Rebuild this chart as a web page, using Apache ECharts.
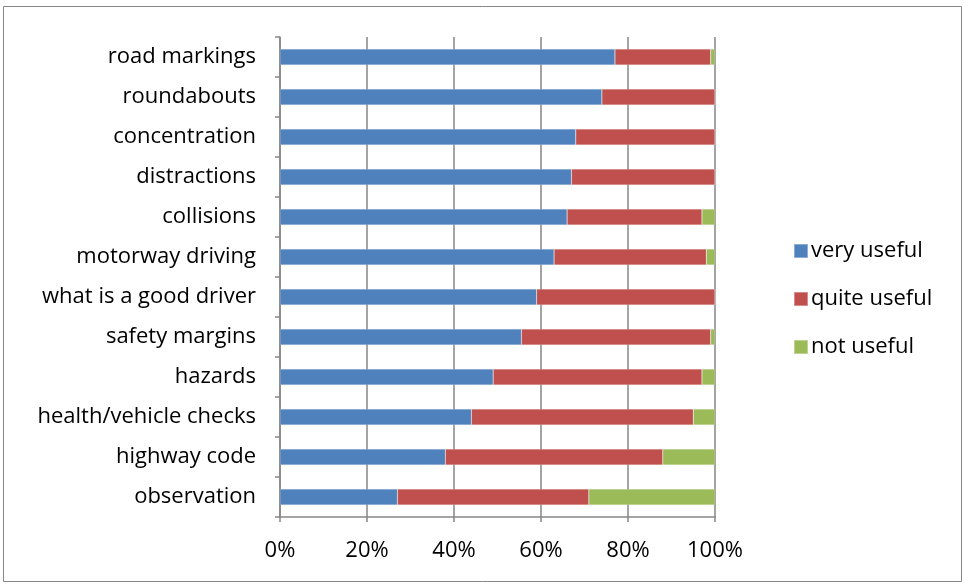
<!DOCTYPE html>
<html>
<head>
<meta charset="utf-8">
<script src="https://cdn.jsdelivr.net/npm/echarts@6/dist/echarts.min.js"></script>
<style>
html,body{margin:0;padding:0;background:#fff;}
#c{width:964px;height:586px;}
</style>
</head>
<body>
<div id="c"></div>
<script>
// Categories listed bottom to top (as drawn on the value axis)
const categories = ["observation","highway code","health/vehicle checks","hazards","safety margins","what is a good driver","motorway driving","collisions","distractions","concentration","roundabouts","road markings"];
const veryUseful  = [27, 38, 44, 49, 55.5, 59, 63, 66, 67, 68, 74, 77];
const quiteUseful = [44, 50, 51, 48, 43.5, 41, 35, 31, 33, 32, 26, 22];
const notUseful   = [29, 12, 5, 3, 1, 0, 2, 3, 0, 0, 0, 1];
const seriesNames = ["very useful","quite useful","not useful"];
const xTicks = [0, 20, 40, 60, 80, 100];

const FONT = "Open Sans";
const FS = 22;
const chart = echarts.init(document.getElementById('c'), null, {renderer:'canvas'});
const mk = (name, data, color) => ({
  name, type:'bar', stack:'total', data, barWidth:16,
  itemStyle:{color, borderColor:'rgba(255,255,255,0.35)', borderWidth:0.5},
  emphasis:{disabled:true}
});
chart.setOption({
  animation:false,
  backgroundColor:'#fff',
  graphic:[{type:'rect', shape:{x:3.5,y:6.5,width:958,height:575}, style:{fill:'none', stroke:'#868686', lineWidth:1}, silent:true}],
  grid:{left:280, right:249, top:37, bottom:69, containLabel:false},
  legend:{
    orient:'vertical', left:788, top:235, itemWidth:14, itemHeight:14, itemGap:26,
    data:seriesNames, icon:'rect',
    textStyle:{fontFamily:FONT, fontSize:FS, color:'#000', padding:[0,0,0,-2]}
  },
  xAxis:{
    type:'value', min:xTicks[0], max:xTicks[xTicks.length-1], interval:20,
    axisLine:{show:true, lineStyle:{color:'#868686', width:1.5}},
    axisTick:{show:true, length:5, lineStyle:{color:'#868686', width:1.5}},
    axisLabel:{formatter:v=>v+'%', fontFamily:FONT, fontSize:FS, color:'#000', margin:23},
    splitLine:{show:true, lineStyle:{color:'#868686', width:1.5}}
  },
  yAxis:{
    type:'category', data:categories,
    axisLine:{show:true, lineStyle:{color:'#868686', width:1.5}},
    axisTick:{show:true, length:5, lineStyle:{color:'#868686', width:1.5}},
    axisLabel:{fontFamily:FONT, fontSize:FS, color:'#000', margin:24, padding:[3,0,0,0]}
  },
  series:[
    mk(seriesNames[0], veryUseful, '#4F81BD'),
    mk(seriesNames[1], quiteUseful, '#C0504D'),
    mk(seriesNames[2], notUseful, '#9BBB59')
  ]
});
</script>
</body>
</html>
